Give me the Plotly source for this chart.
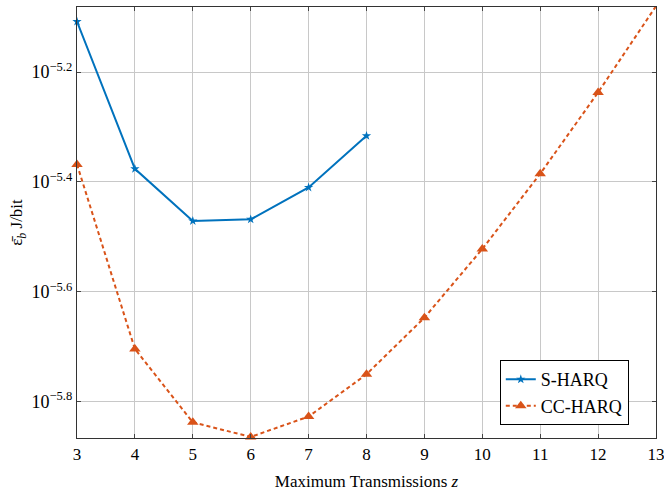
import plotly.graph_objects as go

x_s = [3, 4, 5, 6, 7, 8]
log_s = [-5.108, -5.376, -5.471, -5.468, -5.410, -5.316]
x_cc = [3, 4, 5, 6, 7, 8, 9, 10, 11, 12, 13]
log_cc = [-5.368, -5.704, -5.8375, -5.864, -5.827, -5.750, -5.647, -5.522, -5.385, -5.237, -5.080]
y_s = [10 ** v for v in log_s]
y_cc = [10 ** v for v in log_cc]

ytick_exp = [-5.2, -5.4, -5.6, -5.8]
ytick_vals = [10 ** e for e in ytick_exp]
ytick_text = ["10<sup>\u22125.2</sup>", "10<sup>\u22125.4</sup>", "10<sup>\u22125.6</sup>", "10<sup>\u22125.8</sup>"]

blue = "#0072BD"
orange = "#D95319"
font_family = "Liberation Serif, DejaVu Serif, serif"

fig = go.Figure()
fig.add_trace(go.Scatter(
    x=x_s, y=y_s, name="S-HARQ", mode="lines+markers",
    line=dict(color=blue, width=2),
    marker=dict(symbol="star", size=7, color=blue),
    cliponaxis=False,
))
fig.add_trace(go.Scatter(
    x=x_cc, y=y_cc, name="CC-HARQ", mode="lines+markers",
    line=dict(color=orange, width=2, dash="4px,3px"),
    marker=dict(symbol="triangle-up", size=10, color=orange),
    cliponaxis=False,
))

fig.update_layout(
    width=664, height=493,
    margin=dict(l=77, r=8, t=7, b=55),
    paper_bgcolor="white", plot_bgcolor="white",
    font=dict(family=font_family, size=15, color="black"),
    showlegend=True,
    legend=dict(
        x=0.953, y=0.030, xanchor="right", yanchor="bottom",
        bgcolor="white", bordercolor="black", borderwidth=1,
        font=dict(size=18, family=font_family),
        tracegroupgap=0, itemwidth=30,
    ),
)
fig.update_xaxes(
    range=[3, 13], dtick=1, tick0=3,
    automargin=False, ticklabeloverflow="allow",
    showgrid=True, gridcolor="#c8c8c8", gridwidth=1,
    showline=True, linecolor="#333333", linewidth=1.2, mirror="ticks",
    ticks="inside", ticklen=4, tickcolor="#444444",
    zeroline=False,
    tickfont=dict(size=17),
    title=dict(text="Maximum Transmissions <i>z</i>", font=dict(size=17), standoff=12),
)
fig.update_yaxes(
    type="log", range=[-5.866, -5.0815],
    automargin=False, ticklabeloverflow="allow",
    tickvals=ytick_vals, ticktext=ytick_text,
    showgrid=True, gridcolor="#c8c8c8", gridwidth=1,
    showline=True, linecolor="#333333", linewidth=1.2, mirror="ticks",
    ticks="inside", ticklen=4, tickcolor="#444444",
    zeroline=False,
    tickfont=dict(size=18),
    title=dict(text="\u03b5\u0304<sub><i>b</i></sub> J/bit", font=dict(size=17), standoff=4),
)

fig.write_html(
    "out.html",
    config={"displayModeBar": False},
    post_script="document.body.style.margin='0';document.body.style.padding='0';",
)
